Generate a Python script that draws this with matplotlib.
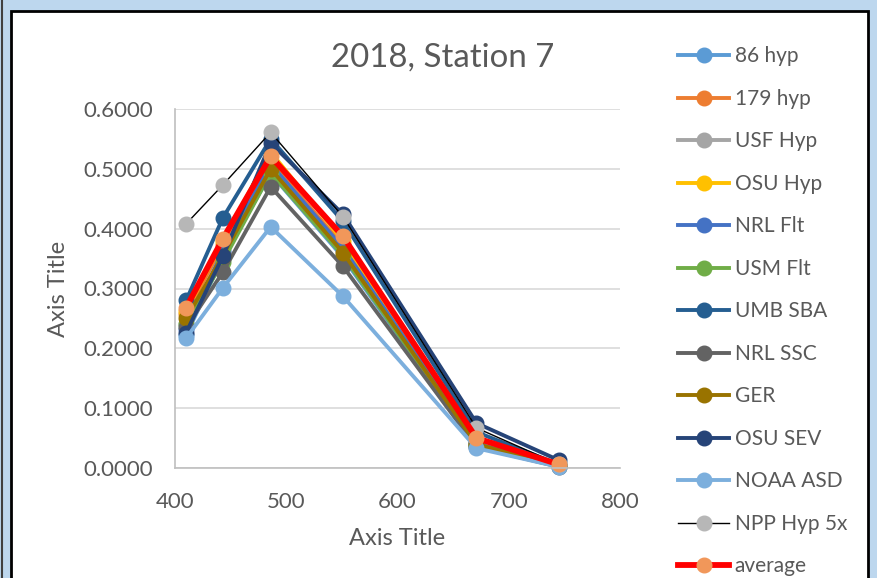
import matplotlib
matplotlib.use("Agg")
import matplotlib.pyplot as plt
from matplotlib.patches import Rectangle
from matplotlib.lines import Line2D

plt.rcParams['font.family'] = ['Lato', 'DejaVu Sans']

# ── Data ───────────────────────────────────────────────────────────
wavelength = [410, 443, 486, 551, 671, 745]

hyp86 = [0.222, 0.352, 0.492, 0.352, 0.036, 0.003]
hyp179 = [0.258, 0.372, 0.512, 0.372, 0.043, 0.004]
usf_hyp = [0.240, 0.360, 0.502, 0.362, 0.040, 0.003]
osu_hyp = [0.262, 0.380, 0.528, 0.380, 0.046, 0.004]
nrl_flt = [0.232, 0.362, 0.508, 0.368, 0.041, 0.003]
usm_flt = [0.240, 0.345, 0.493, 0.355, 0.038, 0.003]
umb_sba = [0.280, 0.418, 0.550, 0.412, 0.060, 0.006]
nrl_ssc = [0.235, 0.327, 0.470, 0.337, 0.035, 0.002]
ger = [0.250, 0.355, 0.500, 0.360, 0.040, 0.003]
osu_sev = [0.226, 0.354, 0.543, 0.424, 0.075, 0.013]
noaa_asd = [0.217, 0.301, 0.403, 0.287, 0.033, 0.002]
npp_5x = [0.408, 0.473, 0.561, 0.420, 0.067, 0.006]
average = [0.268, 0.383, 0.521, 0.387, 0.050, 0.006]

# (label, values, line colour, marker colour, line width)
series = [
    ("86 hyp", hyp86, "#5B9BD5", "#5B9BD5", 2.8),
    ("179 hyp", hyp179, "#ED7D31", "#ED7D31", 2.8),
    ("USF Hyp", usf_hyp, "#A5A5A5", "#A5A5A5", 2.8),
    ("OSU Hyp", osu_hyp, "#FFC000", "#FFC000", 2.8),
    ("NRL Flt", nrl_flt, "#4472C4", "#4472C4", 2.8),
    ("USM Flt", usm_flt, "#70AD47", "#70AD47", 2.8),
    ("UMB SBA", umb_sba, "#255E91", "#255E91", 2.8),
    ("NRL SSC", nrl_ssc, "#636363", "#636363", 2.8),
    ("GER", ger, "#997300", "#997300", 2.8),
    ("OSU SEV", osu_sev, "#264478", "#264478", 2.8),
    ("NOAA ASD", noaa_asd, "#7CAFDD", "#7CAFDD", 2.8),
    ("NPP Hyp 5x", npp_5x, "#000000", "#B7B7B7", 1.0),
    ("average", average, "#FF0000", "#F1975A", 4.2),
]

TEXT_GRAY = "#595959"

# ── Figure / chart area ───────────────────────────────────────────
W, H = 877, 578
fig = plt.figure(figsize=(W / 100, H / 100), dpi=100, facecolor="#BDD7EE")
fig.patches.append(Rectangle((11 / W, -0.1), (868 - 11) / W, 1.1 - 11 / H,
                             transform=fig.transFigure, facecolor="white",
                             edgecolor="black", linewidth=2, zorder=-2))
fig.lines.append(Line2D([1.5 / W, 1.5 / W], [0, 1], transform=fig.transFigure,
                        color="#404040", linewidth=1.5, zorder=-1))

ax = fig.add_axes([175 / W, (H - 468) / H, 445 / W, 359 / H], zorder=1)
ax.set_facecolor("white")

for label, vals, lc, mc, lw in series:
    ax.plot(wavelength, vals, color=lc, linewidth=lw, marker="o",
            markersize=10.5, markerfacecolor=mc, markeredgecolor=mc,
            label=label, clip_on=False)

ax.set_xlim(400, 800)
ax.set_ylim(0, 0.6)
ax.set_xticks([400, 500, 600, 700, 800])
ax.set_yticks([0, 0.1, 0.2, 0.3, 0.4, 0.5, 0.6])
ax.set_yticklabels([f"{v:.4f}" for v in ax.get_yticks()])
ax.tick_params(length=0, labelsize=16, colors=TEXT_GRAY)
ax.tick_params(axis="y", pad=16)
ax.tick_params(axis="x", pad=17)
ax.grid(axis="y", color="#D9D9D9", linewidth=1.2)
ax.set_axisbelow(True)
for s in ["top", "right"]:
    ax.spines[s].set_visible(False)
for s in ["left", "bottom"]:
    ax.spines[s].set_color("#BFBFBF")
    ax.spines[s].set_linewidth(1.2)

ax.set_xlabel("Axis Title", fontsize=17, color=TEXT_GRAY, labelpad=12)
ax.set_ylabel("Axis Title", fontsize=17, color=TEXT_GRAY, labelpad=10)
fig.text(443 / W, 1 - 58 / H, "2018, Station 7", fontsize=23.8, color=TEXT_GRAY,
         ha="center", va="center")

fig.legend(loc="upper left", bbox_to_anchor=(670 / W, 1 - 38 / H),
           frameon=False, fontsize=15, labelcolor=TEXT_GRAY,
           handlelength=2.45, handletextpad=0.25, labelspacing=1.08,
           borderaxespad=0)

fig.savefig("out.png", dpi=100, facecolor=fig.get_facecolor())
